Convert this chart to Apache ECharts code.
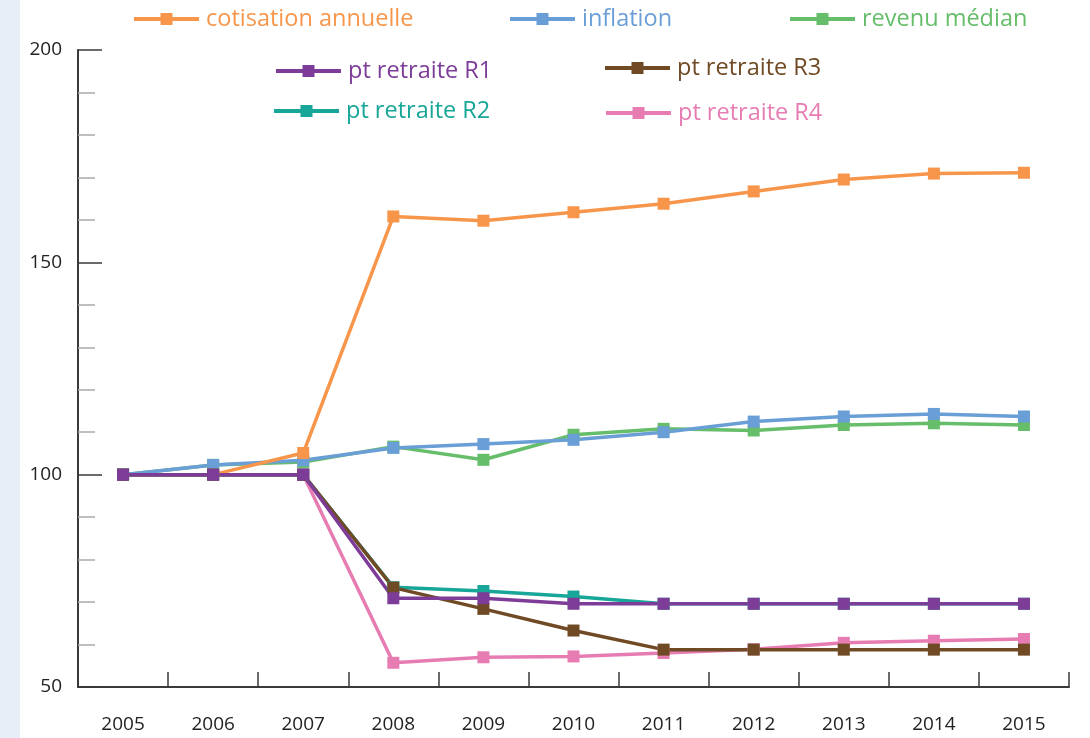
<!DOCTYPE html>
<html>
<head>
<meta charset="utf-8">
<script src="https://cdn.jsdelivr.net/npm/echarts@6/dist/echarts.min.js"></script>
<style>
html,body{margin:0;padding:0;background:#fff;}
#c{width:1090px;height:738px;}
</style>
</head>
<body>
<div id="c"></div>
<script>
const years = ['2005','2006','2007','2008','2009','2010','2011','2012','2013','2014','2015'];
const cotisation = [100, 100, 105.1, 160.8, 159.8, 161.8, 163.8, 166.7, 169.5, 170.9, 171.1];
const inflation = [100, 102.3, 103.4, 106.3, 107.2, 108.2, 110.0, 112.5, 113.7, 114.3, 113.7];
const revenu = [100, 102.3, 103.0, 106.6, 103.5, 109.4, 110.8, 110.4, 111.7, 112.1, 111.7];
const r1 = [100, 100, 100, 70.9, 70.9, 69.6, 69.6, 69.6, 69.6, 69.6, 69.6];
const r2 = [100, 100, 100, 73.5, 72.6, 71.3, 69.6, 69.6, 69.6, 69.6, 69.6];
const r3 = [100, 100, 100, 73.4, 68.4, 63.3, 58.8, 58.8, 58.8, 58.8, 58.8];
const r4 = [100, 100, 100, 55.7, 57.0, 57.2, 58.0, 58.9, 60.4, 60.9, 61.3];
const yTicks = [50, 100, 150, 200];

const FONT = '"Open Sans", "Noto Sans", sans-serif';
const C = {
  cot: '#F7964A', inf: '#6A9ED6', rev: '#66BD6A',
  r1: '#7D3C98', r2: '#17A697', r3: '#704A24', r4: '#E77CB3'
};

function mkSeries(name, data, color) {
  return {
    name: name, type: 'line', data: data,
    symbol: 'rect', symbolSize: 12,
    lineStyle: { color: color, width: 3.5 },
    itemStyle: { color: color },
    emphasis: { disabled: true },
    animation: false
  };
}
function mkLegend(name, color, left, cy) {
  return {
    data: [name], left: left, top: cy - 14, padding: 0,
    itemWidth: 65, itemHeight: 15,
    lineStyle: { width: 4 },
    textStyle: { color: color, fontSize: 23.5, fontFamily: FONT, lineHeight: 28, padding: [0, 0, 0, 2] },
    selectedMode: false
  };
}

const chart = echarts.init(document.getElementById('c'), null, { renderer: 'canvas' });
chart.setOption({
  backgroundColor: '#ffffff',
  animation: false,
  graphic: [{ type: 'rect', left: 0, top: 0, shape: { width: 20, height: 738 }, style: { fill: '#E8EEF8' }, silent: true }],
  legend: [
    mkLegend('cotisation annuelle', C.cot, 132, 19),
    mkLegend('inflation', C.inf, 508, 19),
    mkLegend('revenu médian', C.rev, 788, 19),
    mkLegend('pt retraite R1', C.r1, 274, 71),
    mkLegend('pt retraite R3', C.r3, 603, 68),
    mkLegend('pt retraite R2', C.r2, 272, 111),
    mkLegend('pt retraite R4', C.r4, 604, 113)
  ],
  grid: { left: 78, right: 21, top: 50, bottom: 51, containLabel: false },
  xAxis: {
    type: 'category', data: years, boundaryGap: true,
    axisLine: { lineStyle: { color: '#3a3a3a', width: 2 } },
    axisTick: { show: true, inside: true, length: 15, lineStyle: { color: '#3a3a3a', width: 1.5 } },
    axisLabel: { color: '#222', fontSize: 19, fontFamily: FONT, margin: 28 },
    splitLine: { show: false }
  },
  yAxis: {
    type: 'value', min: 50, max: 200, interval: 50,
    axisLine: { show: true, lineStyle: { color: '#3a3a3a', width: 2 } },
    axisTick: { show: true, inside: true, length: 24, lineStyle: { color: '#3a3a3a', width: 1.5 } },
    minorTick: { show: true, splitNumber: 5, length: 17, lineStyle: { color: '#aaaaaa', width: 1.5 } },
    axisLabel: {
      color: '#222', fontSize: 19, fontFamily: FONT, margin: 16,
      padding: [0, 0, 11, 0],
      formatter: function (v) { return yTicks.indexOf(v) >= 0 ? String(v) : ''; }
    },
    splitLine: { show: false }
  },
  series: [
    mkSeries('revenu médian', revenu, C.rev),
    mkSeries('inflation', inflation, C.inf),
    mkSeries('cotisation annuelle', cotisation, C.cot),
    mkSeries('pt retraite R4', r4, C.r4),
    mkSeries('pt retraite R2', r2, C.r2),
    mkSeries('pt retraite R3', r3, C.r3),
    mkSeries('pt retraite R1', r1, C.r1)
  ]
});
</script>
</body>
</html>
